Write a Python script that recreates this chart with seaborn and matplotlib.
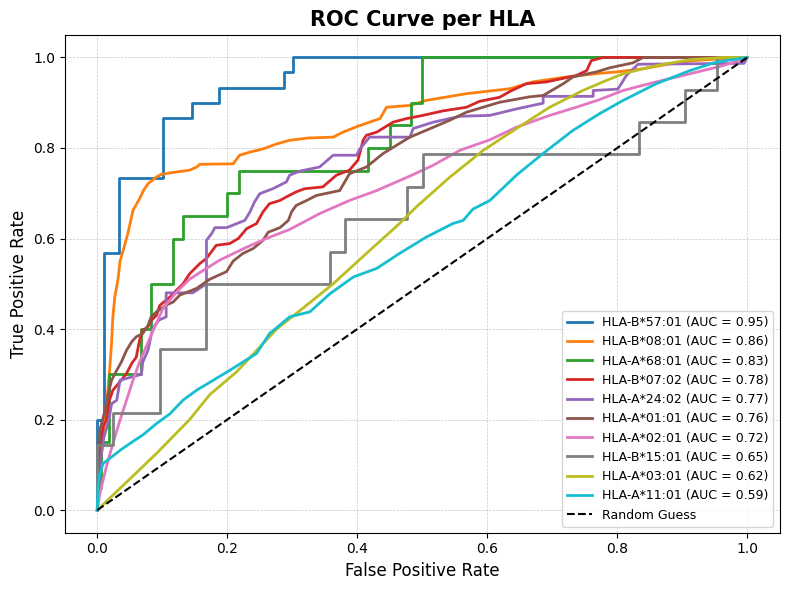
import matplotlib
matplotlib.use("Agg")
import matplotlib.pyplot as plt
import seaborn as sns
import pandas as pd

# HLA alleles and their AUC values (legend order)
hla_names = ["HLA-B*57:01", "HLA-B*08:01", "HLA-A*68:01", "HLA-B*07:02", "HLA-A*24:02",
             "HLA-A*01:01", "HLA-A*02:01", "HLA-B*15:01", "HLA-A*03:01", "HLA-A*11:01"]
auc_values = [0.95, 0.86, 0.83, 0.78, 0.77, 0.76, 0.72, 0.65, 0.62, 0.59]

# ROC points
b5701_fpr = [0, 0, 0.01, 0.01, 0.0335, 0.0335, 0.101, 0.101, 0.146, 0.146, 0.188, 0.188,
             0.288, 0.288, 0.301, 0.301, 1.0]
b5701_tpr = [0, 0.2, 0.2, 0.567, 0.567, 0.733, 0.733, 0.867, 0.867, 0.9, 0.9, 0.933,
             0.933, 0.967, 0.967, 1.0, 1.0]

b0801_fpr = [0, 0.004, 0.008, 0.0115, 0.016, 0.019, 0.022, 0.024, 0.027, 0.032, 0.035, 0.04,
             0.047, 0.055, 0.065, 0.071, 0.078, 0.091, 0.099, 0.117, 0.132, 0.142, 0.153, 0.158,
             0.209, 0.219, 0.235, 0.255, 0.276, 0.296, 0.324, 0.363, 0.378, 0.401, 0.435, 0.445,
             0.481, 0.506, 0.568, 0.599, 0.635, 0.67, 0.722, 0.773, 0.799, 0.84, 0.881, 0.917,
             0.96, 1.0]
b0801_tpr = [0, 0.08, 0.15, 0.206, 0.26, 0.309, 0.37, 0.427, 0.471, 0.511, 0.55, 0.574,
             0.611, 0.662, 0.688, 0.706, 0.721, 0.736, 0.742, 0.746, 0.749, 0.751, 0.758, 0.764,
             0.765, 0.784, 0.791, 0.798, 0.809, 0.817, 0.822, 0.824, 0.835, 0.848, 0.865, 0.89,
             0.894, 0.905, 0.92, 0.925, 0.931, 0.946, 0.957, 0.965, 0.968, 0.975, 0.986, 0.993,
             0.997, 1.0]

a6801_fpr = [0, 0, 0.005, 0.005, 0.018, 0.018, 0.068, 0.068, 0.083, 0.083, 0.117, 0.117,
             0.132, 0.132, 0.2, 0.2, 0.218, 0.218, 0.417, 0.417, 0.451, 0.451, 0.483, 0.483,
             0.5, 0.5, 1.0]
a6801_tpr = [0, 0.05, 0.05, 0.15, 0.15, 0.3, 0.3, 0.4, 0.4, 0.5, 0.5, 0.6,
             0.6, 0.65, 0.65, 0.7, 0.7, 0.75, 0.75, 0.8, 0.8, 0.85, 0.85, 0.9,
             0.9, 1.0, 1.0]

b0702_fpr = [0, 0.002, 0.006, 0.009, 0.014, 0.018, 0.024, 0.037, 0.045, 0.053, 0.06, 0.065,
             0.07, 0.078, 0.083, 0.091, 0.096, 0.112, 0.122, 0.132, 0.142, 0.158, 0.168, 0.183,
             0.204, 0.217, 0.23, 0.245, 0.255, 0.265, 0.281, 0.291, 0.306, 0.319, 0.347, 0.368,
             0.388, 0.401, 0.409, 0.414, 0.43, 0.455, 0.476, 0.501, 0.532, 0.568, 0.588, 0.619,
             0.635, 0.66, 0.691, 0.737, 0.753, 0.76, 0.778, 1.0]
b0702_tpr = [0, 0.08, 0.155, 0.184, 0.199, 0.24, 0.265, 0.287, 0.302, 0.324, 0.338, 0.375,
             0.397, 0.405, 0.419, 0.43, 0.452, 0.471, 0.486, 0.5, 0.522, 0.545, 0.556, 0.585,
             0.589, 0.6, 0.622, 0.633, 0.659, 0.677, 0.684, 0.692, 0.703, 0.71, 0.714, 0.74,
             0.751, 0.773, 0.817, 0.828, 0.835, 0.857, 0.865, 0.872, 0.882, 0.89, 0.903, 0.912,
             0.925, 0.942, 0.946, 0.96, 0.971, 0.993, 1.0, 1.0]

a2402_fpr = [0, 0.005, 0.01, 0.018, 0.022, 0.03, 0.035, 0.068, 0.07, 0.078, 0.085, 0.095,
             0.106, 0.106, 0.147, 0.168, 0.168, 0.176, 0.181, 0.199, 0.227, 0.235, 0.242, 0.25,
             0.27, 0.291, 0.296, 0.312, 0.342, 0.363, 0.399, 0.404, 0.419, 0.481, 0.486, 0.517,
             0.558, 0.604, 0.647, 0.686, 0.686, 0.763, 0.763, 0.801, 0.814, 0.832, 0.995, 1.0]
a2402_tpr = [0, 0.11, 0.16, 0.2, 0.235, 0.243, 0.287, 0.3, 0.327, 0.353, 0.4, 0.42,
             0.427, 0.48, 0.48, 0.5, 0.596, 0.611, 0.624, 0.624, 0.64, 0.659, 0.681, 0.699,
             0.71, 0.725, 0.74, 0.749, 0.758, 0.784, 0.784, 0.798, 0.824, 0.824, 0.843, 0.857,
             0.87, 0.872, 0.887, 0.899, 0.914, 0.914, 0.927, 0.93, 0.96, 0.985, 0.987, 1.0]

a0101_fpr = [0, 0.002, 0.004, 0.012, 0.017, 0.022, 0.03, 0.037, 0.045, 0.053, 0.06, 0.07,
             0.078, 0.083, 0.091, 0.106, 0.117, 0.127, 0.153, 0.173, 0.199, 0.209, 0.224, 0.24,
             0.255, 0.263, 0.281, 0.294, 0.299, 0.306, 0.322, 0.337, 0.373, 0.388, 0.414, 0.44,
             0.481, 0.506, 0.542, 0.568, 0.619, 0.665, 0.686, 0.717, 0.732, 0.768, 0.788, 0.824,
             0.84, 1.0]
a0101_tpr = [0, 0.1, 0.177, 0.221, 0.258, 0.287, 0.309, 0.327, 0.353, 0.372, 0.383, 0.39,
             0.408, 0.427, 0.438, 0.453, 0.46, 0.475, 0.49, 0.51, 0.527, 0.55, 0.567, 0.578,
             0.596, 0.614, 0.624, 0.64, 0.659, 0.673, 0.684, 0.695, 0.706, 0.743, 0.758, 0.788,
             0.824, 0.839, 0.861, 0.879, 0.901, 0.913, 0.916, 0.942, 0.957, 0.968, 0.977, 0.988,
             1.0, 1.0]

a0201_fpr = [0, 0.004, 0.014, 0.024, 0.035, 0.045, 0.055, 0.065, 0.086, 0.101, 0.122, 0.142,
             0.158, 0.188, 0.23, 0.26, 0.296, 0.342, 0.388, 0.43, 0.481, 0.517, 0.558, 0.604,
             0.645, 0.696, 0.737, 0.773, 0.809, 0.86, 0.912, 0.963, 1.0]
a0201_tpr = [0, 0.037, 0.096, 0.147, 0.199, 0.243, 0.287, 0.327, 0.397, 0.445, 0.482, 0.51,
             0.525, 0.552, 0.581, 0.6, 0.62, 0.655, 0.684, 0.706, 0.738, 0.762, 0.795, 0.818,
             0.846, 0.872, 0.89, 0.907, 0.927, 0.946, 0.964, 0.982, 1.0]

b1501_fpr = [0, 0, 0.024, 0.024, 0.096, 0.096, 0.168, 0.168, 0.358, 0.358, 0.381, 0.381,
             0.477, 0.477, 0.501, 0.501, 0.834, 0.834, 0.905, 0.905, 0.954, 0.954, 1.0]
b1501_tpr = [0, 0.143, 0.143, 0.214, 0.214, 0.357, 0.357, 0.5, 0.5, 0.571, 0.571, 0.643,
             0.643, 0.714, 0.714, 0.786, 0.786, 0.857, 0.857, 0.929, 0.929, 1.0, 1.0]

a0301_fpr = [0, 0.04, 0.091, 0.142, 0.173, 0.214, 0.276, 0.312, 0.363, 0.414, 0.465, 0.491,
             0.542, 0.594, 0.645, 0.696, 0.747, 0.783, 0.809, 0.86, 0.912, 0.963, 1.0]
a0301_tpr = [0, 0.055, 0.125, 0.2, 0.255, 0.305, 0.4, 0.441, 0.5, 0.567, 0.633, 0.67,
             0.735, 0.795, 0.843, 0.89, 0.927, 0.949, 0.964, 0.982, 0.995, 1.0, 1.0]

a1101_fpr = [0, 0.001, 0.004, 0.009, 0.019, 0.035, 0.05, 0.07, 0.091, 0.112, 0.132, 0.153,
             0.204, 0.245, 0.265, 0.296, 0.327, 0.358, 0.394, 0.43, 0.465, 0.506, 0.547, 0.563,
             0.578, 0.604, 0.645, 0.686, 0.732, 0.773, 0.809, 0.86, 0.912, 0.953, 1.0]
a1101_tpr = [0, 0.051, 0.081, 0.103, 0.114, 0.132, 0.147, 0.166, 0.191, 0.213, 0.243, 0.265,
             0.309, 0.346, 0.39, 0.427, 0.438, 0.478, 0.515, 0.534, 0.567, 0.603, 0.633, 0.64,
             0.665, 0.684, 0.74, 0.788, 0.839, 0.876, 0.905, 0.942, 0.971, 0.99, 1.0]

fpr_lists = [b5701_fpr, b0801_fpr, a6801_fpr, b0702_fpr, a2402_fpr,
             a0101_fpr, a0201_fpr, b1501_fpr, a0301_fpr, a1101_fpr]
tpr_lists = [b5701_tpr, b0801_tpr, a6801_tpr, b0702_tpr, a2402_tpr,
             a0101_tpr, a0201_tpr, b1501_tpr, a0301_tpr, a1101_tpr]

# Long-form table for seaborn
rows = []
labels = []
for name, auc, fpr, tpr in zip(hla_names, auc_values, fpr_lists, tpr_lists):
    label = f"{name} (AUC = {auc:.2f})"
    labels.append(label)
    for i, (x, y) in enumerate(zip(fpr, tpr)):
        rows.append({"label": label, "order": i, "fpr": x, "tpr": y})
df = pd.DataFrame(rows)

fig, ax = plt.subplots(figsize=(7.9, 5.9), dpi=100)
sns.lineplot(data=df, x="fpr", y="tpr", hue="label", hue_order=labels,
             palette="tab10", estimator=None, sort=False, linewidth=2, ax=ax)
ax.plot([0, 1], [0, 1], "k--", linewidth=1.5, label="Random Guess")

ax.set_title("ROC Curve per HLA", fontsize=15, fontweight="bold")
ax.set_xlabel("False Positive Rate", fontsize=12)
ax.set_ylabel("True Positive Rate", fontsize=12)
ax.grid(True, linestyle="--", linewidth=0.5, alpha=0.7)
ax.legend(loc="lower right", fontsize=9)

fig.subplots_adjust(left=0.082, right=0.987, top=0.941, bottom=0.097)
plt.savefig("out.png")
